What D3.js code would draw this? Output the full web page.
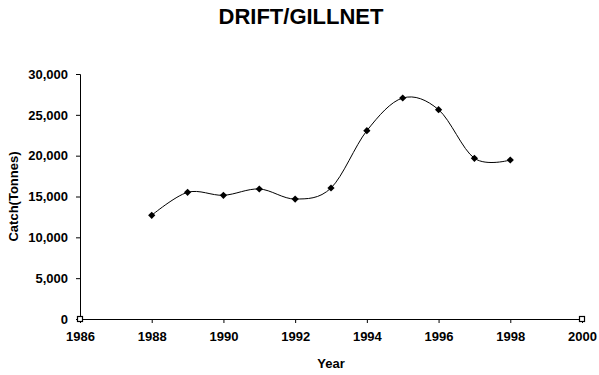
<!DOCTYPE html>
<html>
<head>
<meta charset="utf-8">
<script src="https://cdn.jsdelivr.net/npm/d3@7"></script>
<style>
  body { margin: 0; background: #fff; }
  svg { display: block; font-family: 'Liberation Sans', Arial, sans-serif; }
</style>
</head>
<body>
<svg width="599" height="375"></svg>
<script>
const years = [1988, 1989, 1990, 1991, 1992, 1993, 1994, 1995, 1996, 1997, 1998]
const catchTonnes = [12700, 15510, 15150, 15920, 14690, 16040, 23060, 27060, 25630, 19680, 19470]
// corner points of the hidden range series
const rangeYears = [1986, 2000]
const rangeValues = [0, 0]
const xTicks = [1986, 1988, 1990, 1992, 1994, 1996, 1998, 2000]
const yTicks = [0, 5000, 10000, 15000, 20000, 25000, 30000]

let svg = d3.select('svg')
let mLeft = 80, mRight = 582, mTop = 74, mBottom = 319

let x = d3.scaleLinear().domain([1986, 2000]).range([mLeft, mRight])
let y = d3.scaleLinear().domain([0, 30000]).range([mBottom, mTop])

svg.append('text')
    .attr('x', 301).attr('y', 24)
    .attr('text-anchor', 'middle')
    .attr('font-size', 22).attr('font-weight', 700)
    .text('DRIFT/GILLNET')

svg.append('g')
    .attr('transform', 'translate(' + mLeft + ',0)')
    .call(d3.axisLeft(y).tickValues(yTicks).tickSizeOuter(0).tickSize(4).tickPadding(8)
      .tickFormat(d3.format(',')))
svg.append('g')
    .attr('transform', 'translate(0,' + mBottom + ')')
    .call(d3.axisBottom(x).tickValues(xTicks).tickSizeOuter(0).tickSize(4).tickPadding(9)
      .tickFormat(d3.format('d')))

svg.selectAll('.domain').attr('stroke', '#000')
svg.selectAll('.tick line').attr('stroke', '#000')
svg.selectAll('.tick text')
    .attr('font-family', "'Liberation Sans', Arial, sans-serif")
    .attr('font-size', 13).attr('font-weight', 700).attr('fill', '#000')

svg.append('text')
    .attr('transform', 'translate(18,' + ((mTop + mBottom) / 2) + ') rotate(-90)')
    .attr('text-anchor', 'middle')
    .attr('font-size', 13).attr('font-weight', 700)
    .text('Catch(Tonnes)')

svg.append('text')
    .attr('x', (mLeft + mRight) / 2).attr('y', 368)
    .attr('text-anchor', 'middle')
    .attr('font-size', 13).attr('font-weight', 700)
    .text('Year')

let line = d3.line()
    .x(function(d, i) { return x(years[i]) })
    .y(function(d) { return y(d) })
    .curve(d3.curveCardinal.tension(0))

svg.append('path')
    .datum(catchTonnes)
    .attr('fill', 'none')
    .attr('stroke', '#000')
    .attr('stroke-width', 1)
    .attr('d', line)

svg.append('g').selectAll('path')
    .data(catchTonnes)
    .enter().append('path')
      .attr('d', d3.symbol().type(d3.symbolSquare).size(26))
      .attr('transform', function(d, i) { return 'translate(' + x(years[i]) + ',' + y(d) + ') rotate(45)' })
      .attr('fill', '#000')

svg.append('g').selectAll('rect')
    .data(rangeValues)
    .enter().append('rect')
      .attr('x', function(d, i) { return x(rangeYears[i]) - 2.5 })
      .attr('y', function(d) { return y(d) - 2.5 })
      .attr('width', 5).attr('height', 5)
      .attr('fill', '#fff')
      .attr('stroke', '#000')
      .attr('stroke-width', 1.2)
</script>
</body>
</html>
